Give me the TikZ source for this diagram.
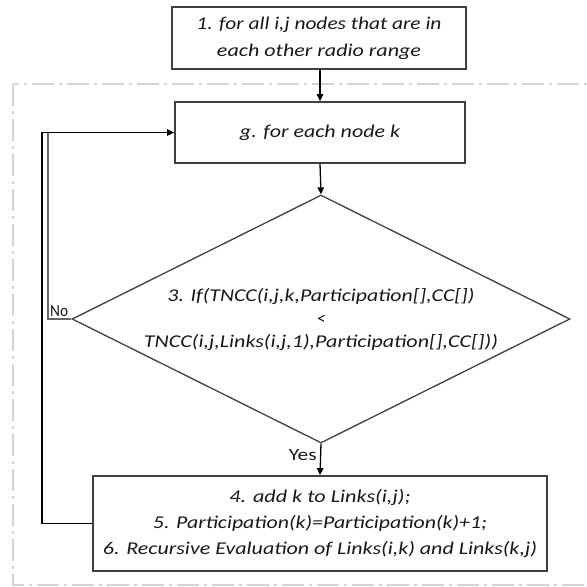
\documentclass[tikz,border=0pt]{standalone}
\usepackage{graphicx}
\usepackage{fontspec}
\setmainfont{Carlito}
\newcommand{\fitw}[2]{\resizebox{#1pt}{\height}{#2}}
\usetikzlibrary{arrows.meta,shapes.geometric}
\definecolor{boxline}{HTML}{404040}
\definecolor{frame}{HTML}{D4D4D4}
\begin{document}
\begin{tikzpicture}[x=1pt,y=-1pt,
  every node/.style={font=\fontsize{18}{27}\selectfont\itshape, text=black!90},
  fbox/.style={draw=boxline, line width=1.8pt, rectangle, inner sep=0pt, align=center},
  dia/.style={draw=boxline, line width=1.3pt, diamond, inner sep=0pt, minimum width=498pt, minimum height=248pt},
  arr/.style={draw=black, line width=1.3pt, -{Triangle[length=7pt,width=6.5pt]}},
  lbl/.style={inner sep=1pt, font=\fontsize{17}{18}\selectfont}
]
\clip (0,0) rectangle (587,587);
\fill[white] (0,0) rectangle (587,587);
\draw[frame, line width=1.6pt, dash pattern=on 22pt off 5pt on 3pt off 5pt] (13,84) rectangle (600,585);

\node[fbox, minimum width=294pt, minimum height=62pt] (one) at (319,38)
  {\fitw{245}{1. for all i,j nodes that are in}\\ \fitw{204}{each other radio range}};
\node[fbox, minimum width=290pt, minimum height=61pt] (two) at (320,132.5)
  {\fitw{160}{g. for each node k}};
\node[dia] (three) at (321,319) {};
\node[align=center, font=\fontsize{18}{23}\selectfont\itshape] (threetxt) at (three.center)
  {\fitw{307}{3. If(TNCC(i,j,k,Participation[],CC[])}\\ <\\ \fitw{354}{TNCC(i,j,Links(i,j,1),Participation[],CC[]))}};
\node[fbox, minimum width=454pt, minimum height=95pt, font=\fontsize{18}{26}\selectfont\itshape] (four) at (320,523.5)
  {\fitw{181}{4. add k to Links(i,j);}\\ \fitw{334}{5. Participation(k)=Participation(k)+1;}\\ \fitw{434}{6. Recursive Evaluation of Links(i,k) and Links(k,j)}};

\draw[arr] (one.south -| two.north) -- (two.north);
\draw[arr] (two.south) -- (three.north);
\draw[arr] (three.south) -- (four.north);

\coordinate (nocorner) at (48,319);
\coordinate (loopcorner) at (42,523.5);
\draw[black!60, line width=1.2pt] (three.west) -- (nocorner) |- (two.west);
\draw[arr] (four.west) -- (loopcorner) |- (two.west);

\node[lbl, anchor=south west] (no) at (49,318) {\fitw{18}{No}};
\node[lbl, anchor=east] (yes) at (318,455) {\fitw{28}{Yes}};
\end{tikzpicture}
\end{document}
